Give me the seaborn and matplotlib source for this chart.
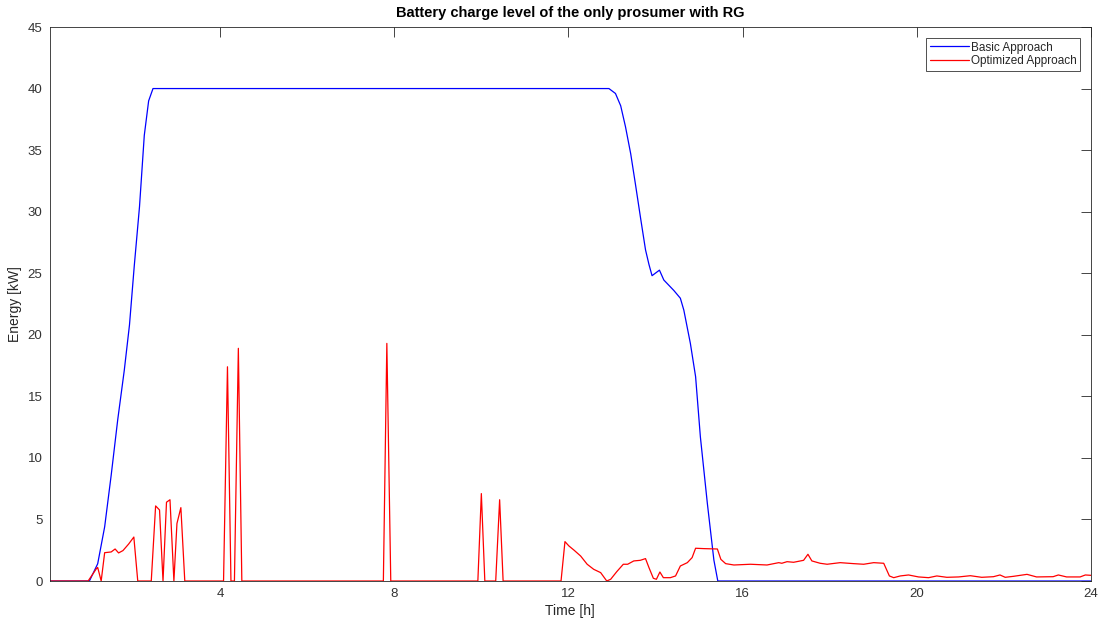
import matplotlib
matplotlib.use("Agg")
import matplotlib.pyplot as plt
import seaborn as sns
import pandas as pd

# ---- data ----
basic_t = [0.0833, 1.00, 1.19, 1.35, 1.50, 1.65, 1.80, 1.92, 2.03, 2.15, 2.26, 2.36, 2.46,
           12.93, 13.08, 13.20, 13.31, 13.43, 13.54, 13.66, 13.77, 13.85, 13.92, 14.09,
           14.19, 14.42, 14.57, 14.65, 14.80, 14.92, 15.03, 15.19, 15.34, 15.43, 24.0]
basic_v = [0, 0, 1.4, 4.4, 8.6, 13.1, 17.1, 20.8, 25.6, 30.4, 36.2, 39.0, 40,
           40, 39.6, 38.6, 36.9, 34.7, 32.2, 29.4, 26.9, 25.7, 24.8, 25.25,
           24.45, 23.6, 22.97, 22.0, 19.3, 16.6, 11.7, 6.3, 1.7, 0, 0]

opt_t = [0.0833, 0.97, 1.17, 1.19, 1.27, 1.35, 1.50, 1.59, 1.67, 1.77, 1.90, 2.02, 2.11,
         2.42, 2.52, 2.61, 2.69, 2.77, 2.85, 2.94, 3.01, 3.10, 3.19,
         4.08, 4.17, 4.25, 4.33, 4.42, 4.50,
         7.75, 7.83, 7.92,
         9.92, 10.00, 10.08, 10.33, 10.42, 10.50,
         11.83, 11.92, 12.01, 12.13, 12.28, 12.43, 12.58, 12.74, 12.88, 12.97, 13.11,
         13.26, 13.36, 13.50, 13.65, 13.77, 13.85, 13.95, 14.02, 14.10, 14.18, 14.34,
         14.46, 14.57, 14.73, 14.84, 14.92, 15.11, 15.42, 15.50, 15.61, 15.80, 16.18,
         16.56, 16.83, 16.90, 17.02, 17.17, 17.40, 17.50, 17.59, 17.78, 17.94, 18.24,
         18.55, 18.78, 19.01, 19.24, 19.37, 19.47, 19.62, 19.81, 20.04, 20.27, 20.46,
         20.69, 20.96, 21.23, 21.49, 21.76, 21.91, 22.03, 22.22, 22.53, 22.75, 23.13,
         23.25, 23.44, 23.75, 23.87, 24.0]
opt_v = [0, 0, 1.05, 1.1, 0, 2.3, 2.36, 2.6, 2.28, 2.47, 3.0, 3.57, 0,
         0, 6.1, 5.77, 0, 6.4, 6.6, 0, 4.67, 5.96, 0,
         0, 17.4, 0, 0, 18.9, 0,
         0, 19.3, 0,
         0, 7.1, 0, 0, 6.6, 0,
         0, 3.2, 2.85, 2.5, 2.03, 1.36, 0.95, 0.68, 0, 0.14, 0.76,
         1.36, 1.36, 1.63, 1.68, 1.82, 1.08, 0.22, 0.14, 0.73, 0.27, 0.27,
         0.41, 1.22, 1.49, 1.9, 2.66, 2.63, 2.6, 1.76, 1.41, 1.3, 1.36,
         1.3, 1.49, 1.44, 1.57, 1.52, 1.68, 2.17, 1.63, 1.44, 1.36, 1.49,
         1.41, 1.36, 1.49, 1.44, 0.41, 0.27, 0.41, 0.49, 0.33, 0.27, 0.41,
         0.30, 0.33, 0.43, 0.30, 0.35, 0.49, 0.30, 0.38, 0.54, 0.33, 0.35,
         0.49, 0.33, 0.33, 0.49, 0.46]

x_ticks = [4, 8, 12, 16, 20, 24]
y_ticks = [0, 5, 10, 15, 20, 25, 30, 35, 40, 45]

basic_df = pd.DataFrame({"t": basic_t, "v": basic_v})
opt_df = pd.DataFrame({"t": opt_t, "v": opt_v})

# ---- style ----
sns.set_style("white")
plt.rcParams["font.family"] = ["Liberation Sans", "DejaVu Sans"]

fig = plt.figure(figsize=(11.04, 6.26), dpi=100)
W, H = 1104, 626
ax = fig.add_axes([49.5 / W, (H - 581) / H, (1091 - 49.5) / W, (581 - 27) / H])

sns.lineplot(data=basic_df, x="t", y="v", ax=ax, color=(0, 0, 1), lw=0.9,
             label="Basic Approach", estimator=None, sort=False)
sns.lineplot(data=opt_df, x="t", y="v", ax=ax, color=(1, 0, 0), lw=0.9,
             label="Optimized Approach", estimator=None, sort=False)

ax.set_xlim(0.0833, 24)
ax.set_ylim(0, 45)
ax.set_xticks(x_ticks)
ax.set_yticks(y_ticks)
ax.tick_params(direction="in", length=7, width=0.6, top=True, right=True,
               color="#262626", labelcolor="#333333", labelsize=9.5, pad=5)
for s in ax.spines.values():
    s.set_visible(True)
    s.set_color("#262626")
    s.set_linewidth(0.6)

ax.set_xlabel("Time [h]", fontsize=10, color="#262626", labelpad=3)
ax.set_ylabel("Energy [kW]", fontsize=10, color="#262626", labelpad=4)
ax.set_title("Battery charge level of the only prosumer with RG",
             fontsize=10.5, fontweight="bold", color="#000000", pad=7)

leg = ax.legend(loc="upper right", bbox_to_anchor=(0.9894, 0.980),
                borderaxespad=0, fancybox=False, frameon=True,
                edgecolor="#000000", fontsize=8.5, handlelength=3.3,
                handletextpad=0.15, borderpad=0.3, labelspacing=0.15)
leg.get_frame().set_linewidth(0.6)

fig.savefig("out.png", dpi=100)
